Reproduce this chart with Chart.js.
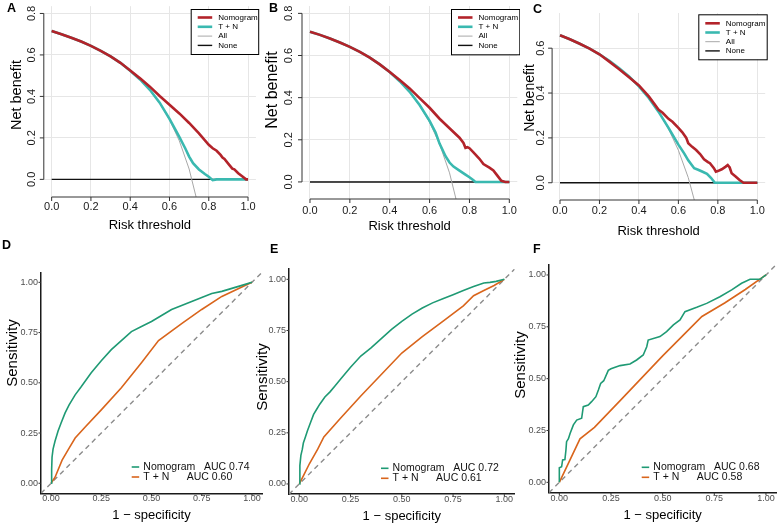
<!DOCTYPE html>
<html>
<head>
<meta charset="utf-8">
<title>Decision curves and ROC curves</title>
<script src="https://cdn.jsdelivr.net/npm/chart.js@4.4.1/dist/chart.umd.min.js"></script>
<style>
  html, body { margin: 0; padding: 0; background: #fff; }
  body { position: relative; width: 780px; height: 526px; overflow: hidden; }
  canvas { position: absolute; }
  .tag { position: absolute; font: bold 12.5px "Liberation Sans", Arial, sans-serif; line-height: 12.5px; color: #000; }
</style>
</head>
<body>
<canvas id="dcaA" width="260" height="236" style="left:0;top:0"></canvas>
<canvas id="dcaB" width="260" height="236" style="left:260px;top:0"></canvas>
<canvas id="dcaC" width="260" height="242" style="left:520px;top:0"></canvas>
<canvas id="rocD" width="266" height="290" style="left:0;top:236px"></canvas>
<canvas id="rocE" width="266" height="290" style="left:252px;top:236px"></canvas>
<canvas id="rocF" width="270" height="290" style="left:510px;top:236px"></canvas>
<div class="tag" style="left:7px;top:2px">A</div>
<div class="tag" style="left:269px;top:2px">B</div>
<div class="tag" style="left:533px;top:3px">C</div>
<div class="tag" style="left:2px;top:239px">D</div>
<div class="tag" style="left:270px;top:243px">E</div>
<div class="tag" style="left:533px;top:243px">F</div>
<script>
// ---- decision curves (A-C): risk threshold -> net benefit ----
const dcaNames = ["Nomogram", "T + N", "All", "None"];
const dcaXTicks = [0, 0.2, 0.4, 0.6, 0.8, 1];
const dcaYTicks = [0, 0.2, 0.4, 0.6, 0.8];
const dcaYTicksC = [0, 0.2, 0.4, 0.6];

const noneThr = [0, 1];
const noneNb = [0, 0];
const allThr = [0, 0.05, 0.1, 0.15, 0.2, 0.25, 0.3, 0.35, 0.4, 0.45, 0.5, 0.55, 0.6, 0.65, 0.7, 0.75];

// A
const allNbA = [0.715, 0.700, 0.683, 0.665, 0.644, 0.620, 0.593, 0.562, 0.525, 0.482, 0.430, 0.367, 0.288, 0.186, 0.050, -0.140];
const nomThrA = [0, 0.05, 0.1, 0.15, 0.2, 0.25, 0.3, 0.35, 0.4, 0.45, 0.5, 0.55, 0.6, 0.65, 0.7, 0.75, 0.8, 0.82, 0.84, 0.86, 0.87, 0.88, 0.9, 0.92, 0.93, 0.95, 0.97, 0.99, 1];
const nomNbA = [0.715, 0.700, 0.683, 0.665, 0.644, 0.620, 0.593, 0.562, 0.525, 0.487, 0.447, 0.402, 0.360, 0.318, 0.272, 0.222, 0.167, 0.150, 0.138, 0.118, 0.105, 0.098, 0.075, 0.052, 0.048, 0.030, 0.015, 0.0, 0.0];
const tnThrA = [0, 0.05, 0.1, 0.15, 0.2, 0.25, 0.3, 0.35, 0.4, 0.45, 0.5, 0.55, 0.6, 0.63, 0.65, 0.68, 0.7, 0.72, 0.75, 0.78, 0.8, 0.82, 0.84, 1];
const tnNbA = [0.715, 0.700, 0.683, 0.665, 0.644, 0.620, 0.593, 0.562, 0.524, 0.482, 0.432, 0.370, 0.292, 0.240, 0.205, 0.150, 0.110, 0.078, 0.048, 0.026, 0.013, -0.004, 0.0, 0.0];

// B
const allNbB = [0.713, 0.698, 0.681, 0.662, 0.641, 0.617, 0.590, 0.558, 0.522, 0.478, 0.426, 0.362, 0.283, 0.180, 0.043, -0.148];
const nomThrB = [0, 0.05, 0.1, 0.15, 0.2, 0.25, 0.3, 0.35, 0.4, 0.45, 0.5, 0.55, 0.6, 0.65, 0.7, 0.75, 0.77, 0.78, 0.79, 0.8, 0.82, 0.85, 0.87, 0.9, 0.92, 0.94, 0.96, 0.98, 1];
const nomNbB = [0.713, 0.698, 0.681, 0.662, 0.641, 0.617, 0.590, 0.558, 0.522, 0.484, 0.444, 0.398, 0.352, 0.300, 0.255, 0.210, 0.185, 0.162, 0.165, 0.160, 0.140, 0.110, 0.085, 0.068, 0.055, 0.030, 0.005, 0.0, 0.0];
const tnThrB = [0, 0.05, 0.1, 0.15, 0.2, 0.25, 0.3, 0.35, 0.4, 0.45, 0.5, 0.55, 0.6, 0.63, 0.65, 0.68, 0.7, 0.72, 0.75, 0.78, 0.8, 0.82, 0.83, 1];
const tnNbB = [0.713, 0.698, 0.681, 0.662, 0.641, 0.617, 0.590, 0.558, 0.522, 0.478, 0.428, 0.365, 0.290, 0.235, 0.182, 0.122, 0.092, 0.073, 0.054, 0.035, 0.022, 0.008, 0.0, 0.0];

// C
const allNbC = [0.658, 0.640, 0.620, 0.598, 0.573, 0.544, 0.511, 0.474, 0.430, 0.378, 0.316, 0.240, 0.145, 0.023, -0.140];
const nomThrC = [0, 0.05, 0.1, 0.15, 0.2, 0.25, 0.3, 0.35, 0.4, 0.45, 0.5, 0.52, 0.55, 0.57, 0.6, 0.62, 0.64, 0.65, 0.67, 0.69, 0.71, 0.73, 0.75, 0.76, 0.78, 0.79, 0.8, 0.82, 0.84, 0.85, 0.86, 0.87, 0.89, 0.91, 0.93, 1];
const nomNbC = [0.658, 0.640, 0.620, 0.598, 0.573, 0.540, 0.506, 0.470, 0.434, 0.385, 0.325, 0.312, 0.285, 0.272, 0.245, 0.225, 0.200, 0.176, 0.160, 0.146, 0.128, 0.105, 0.092, 0.087, 0.065, 0.049, 0.052, 0.060, 0.072, 0.079, 0.068, 0.042, 0.028, 0.012, 0.0, 0.0];
const tnThrC = [0, 0.05, 0.1, 0.15, 0.2, 0.25, 0.3, 0.35, 0.4, 0.45, 0.5, 0.55, 0.6, 0.63, 0.65, 0.68, 0.7, 0.72, 0.745, 0.765, 0.785, 1];
const tnNbC = [0.658, 0.640, 0.620, 0.598, 0.573, 0.544, 0.511, 0.474, 0.430, 0.378, 0.316, 0.245, 0.170, 0.130, 0.100, 0.065, 0.058, 0.050, 0.040, 0.022, 0.0, 0.0];

// ---- ROC curves (D-F): 1 - specificity -> sensitivity ----
const rocTicks = [0, 0.25, 0.5, 0.75, 1];
const diagX = [-0.05, 1.05];
const diagY = [-0.05, 1.05];

const nomFprD = [0, 0.003, 0.005, 0.01, 0.02, 0.035, 0.05, 0.07, 0.09, 0.12, 0.15, 0.2, 0.25, 0.3, 0.35, 0.4, 0.45, 0.5, 0.55, 0.6, 0.65, 0.7, 0.75, 0.8, 0.85, 0.9, 0.95, 1];
const nomTprD = [0, 0.07, 0.13, 0.17, 0.21, 0.26, 0.30, 0.35, 0.39, 0.44, 0.48, 0.55, 0.61, 0.665, 0.71, 0.755, 0.78, 0.805, 0.835, 0.865, 0.885, 0.905, 0.925, 0.945, 0.955, 0.97, 0.985, 1];
const tnFprD = [0, 0.02, 0.055, 0.09, 0.12, 0.17, 0.25, 0.35, 0.45, 0.535, 0.65, 0.75, 0.85, 1];
const tnTprD = [0, 0.03, 0.115, 0.175, 0.225, 0.28, 0.365, 0.475, 0.6, 0.71, 0.795, 0.865, 0.93, 1];
const labelsD = ["Nomogram   AUC 0.74", "T + N      AUC 0.60"];

const nomFprE = [0, 0.003, 0.008, 0.015, 0.02, 0.03, 0.04, 0.055, 0.07, 0.085, 0.1, 0.125, 0.15, 0.175, 0.2, 0.25, 0.3, 0.35, 0.4, 0.45, 0.5, 0.55, 0.6, 0.65, 0.7, 0.75, 0.8, 0.85, 0.9, 0.93, 0.96, 1];
const nomTprE = [0, 0.09, 0.14, 0.17, 0.2, 0.23, 0.26, 0.30, 0.34, 0.365, 0.39, 0.425, 0.45, 0.48, 0.51, 0.57, 0.625, 0.665, 0.71, 0.755, 0.795, 0.83, 0.86, 0.885, 0.905, 0.925, 0.945, 0.965, 0.982, 0.985, 0.99, 1];
const tnFprE = [0, 0.02, 0.05, 0.09, 0.12, 0.2, 0.3, 0.4, 0.5, 0.6, 0.7, 0.8, 0.85, 0.9, 0.95, 1];
const tnTprE = [0, 0.04, 0.10, 0.17, 0.23, 0.32, 0.43, 0.535, 0.64, 0.72, 0.795, 0.87, 0.92, 0.945, 0.97, 1];
const labelsE = ["Nomogram   AUC 0.72", "T + N      AUC 0.61"];

const nomFprF = [0, 0, 0, 0.011, 0.016, 0.027, 0.032, 0.035, 0.044, 0.052, 0.068, 0.084, 0.108, 0.116, 0.14, 0.156, 0.177, 0.189, 0.2, 0.215, 0.237, 0.25, 0.294, 0.342, 0.374, 0.406, 0.423, 0.43, 0.487, 0.519, 0.552, 0.584, 0.608, 0.665, 0.713, 0.777, 0.834, 0.882, 0.923, 0.971, 1];
const nomTprF = [0, 0.01, 0.07, 0.075, 0.108, 0.11, 0.156, 0.196, 0.21, 0.236, 0.277, 0.3, 0.309, 0.365, 0.373, 0.389, 0.413, 0.445, 0.477, 0.49, 0.54, 0.548, 0.563, 0.571, 0.59, 0.614, 0.654, 0.686, 0.703, 0.727, 0.759, 0.783, 0.823, 0.844, 0.863, 0.895, 0.928, 0.96, 0.979, 0.979, 1];
const tnFprF = [0, 0.1, 0.17, 0.3, 0.4, 0.5, 0.6, 0.69, 0.8, 0.9, 1];
const tnTprF = [0, 0.21, 0.265, 0.40, 0.505, 0.61, 0.71, 0.80, 0.865, 0.93, 1];
const labelsF = ["Nomogram   AUC 0.68", "T + N      AUC 0.58"];

const FONT = '"Liberation Sans", Arial, sans-serif';
Chart.defaults.font.family = FONT;
Chart.defaults.color = "#000";

function xy(xs, ys) {
    return xs.map((x, i) => ({ x: x, y: ys[i] }));
}

// base-R style axis: line between first and last tick, short outward ticks
const axisMarks = {
    id: "axisMarks",
    afterDraw(chart, args, o) {
        const { ctx, chartArea: a, scales } = chart;
        const xs = scales.x.ticks.map((t) => scales.x.getPixelForValue(t.value));
        const ys = scales.y.ticks.map((t) => scales.y.getPixelForValue(t.value));
        ctx.save();
        ctx.strokeStyle = o.color;
        ctx.lineWidth = o.width;
        ctx.beginPath();
        if (o.lines) {
            ctx.moveTo(xs[0], a.bottom);
            ctx.lineTo(xs[xs.length - 1], a.bottom);
            ctx.moveTo(a.left, ys[0]);
            ctx.lineTo(a.left, ys[ys.length - 1]);
        }
        xs.forEach((px) => {
            ctx.moveTo(px, a.bottom);
            ctx.lineTo(px, a.bottom + o.len);
        });
        ys.forEach((py) => {
            ctx.moveTo(a.left, py);
            ctx.lineTo(a.left - o.len, py);
        });
        ctx.stroke();
        ctx.restore();
    },
};

// vertical axis title, placed where the figure has it
const sideTitle = {
    id: "sideTitle",
    afterDraw(chart, args, o) {
        const ctx = chart.ctx;
        ctx.save();
        ctx.translate(o.x, o.y);
        ctx.rotate(-Math.PI / 2);
        ctx.font = o.size + "px " + FONT;
        ctx.fillStyle = "#000";
        ctx.textAlign = "center";
        ctx.textBaseline = "middle";
        ctx.fillText(o.text, 0, 0);
        ctx.restore();
    },
};

// boxed legend of the decision curves
const dcaLegend = {
    id: "dcaLegend",
    afterDraw(chart, args, o) {
        const ctx = chart.ctx;
        ctx.save();
        ctx.fillStyle = "#fff";
        ctx.fillRect(o.x, o.y, o.w, o.h);
        ctx.strokeStyle = "#000";
        ctx.lineWidth = 1;
        ctx.strokeRect(o.x + 0.5, o.y + 0.5, o.w, o.h);
        ctx.font = "8px " + FONT;
        ctx.textBaseline = "middle";
        chart.data.datasets.forEach((ds, i) => {
            const yy = o.y + o.first + i * o.step;
            ctx.strokeStyle = ds.borderColor;
            ctx.lineWidth = ds.borderWidth;
            ctx.beginPath();
            ctx.moveTo(o.x + 7, yy);
            ctx.lineTo(o.x + 21.5, yy);
            ctx.stroke();
            ctx.fillStyle = "#000";
            ctx.fillText(ds.label, o.x + 27.5, yy);
        });
        ctx.restore();
    },
};

// ggplot style legend of the ROC curves
const rocLegend = {
    id: "rocLegend",
    afterDraw(chart, args, o) {
        const ctx = chart.ctx;
        ctx.save();
        ctx.font = "10.5px " + FONT;
        ctx.textBaseline = "middle";
        chart.data.datasets.slice(0, 2).forEach((ds, i) => {
            const yy = o.y + i * o.step;
            ctx.strokeStyle = ds.borderColor;
            ctx.lineWidth = 1.6;
            ctx.beginPath();
            ctx.moveTo(o.x, yy);
            ctx.lineTo(o.x + 7.5, yy);
            ctx.stroke();
            ctx.fillStyle = "#111";
            ctx.fillText(ds.label, o.x + 11.6, yy);
        });
        ctx.restore();
    },
};

function dcaChart(id, series, yTicks, box) {
    const canvas = document.getElementById(id);
    const W = canvas.width;
    const H = canvas.height;
    const colors = ["#b3232a", "#3ab9b0", "#a8a8a8", "#111111"];
    const widths = [2.6, 2.6, 1, 1.4];
    return new Chart(canvas, {
        type: "line",
        data: {
            datasets: series.map((s, i) => ({
                label: dcaNames[i],
                data: xy(s[0], s[1]),
                borderColor: colors[i],
                borderWidth: widths[i],
                pointRadius: 0,
                tension: 0,
            })),
        },
        options: {
            responsive: false,
            animation: false,
            events: [],
            layout: { padding: { left: 0, top: box.top, right: W - box.right, bottom: 0 } },
            scales: {
                x: {
                    type: "linear",
                    min: -0.04,
                    max: 1.04,
                    afterBuildTicks: (s) => { s.ticks = dcaXTicks.map((v) => ({ value: v })); },
                    afterFit: (s) => { s.height = H - box.bottom; s.paddingLeft = 0; s.paddingRight = 0; },
                    grid: { color: "#e6e6e6", drawTicks: false },
                    border: { display: false },
                    ticks: { padding: box.xPad, color: "#1a1a1a", font: { size: 11 }, callback: (v) => v.toFixed(1) },
                    title: { display: true, text: "Risk threshold", font: { size: 13 }, padding: { top: 0, bottom: box.xTitlePad } },
                },
                y: {
                    type: "linear",
                    min: box.yMin,
                    max: box.yMax,
                    afterBuildTicks: (s) => { s.ticks = yTicks.map((v) => ({ value: v })); },
                    afterFit: (s) => { s.width = box.left; s.paddingTop = 0; s.paddingBottom = 0; },
                    grid: { color: "#e6e6e6", drawTicks: false },
                    border: { display: false },
                    ticks: { padding: box.yPad, minRotation: 90, maxRotation: 90, crossAlign: "center", color: "#1a1a1a", font: { size: 11 }, callback: (v) => v.toFixed(1) },
                },
            },
            plugins: {
                legend: { display: false },
                tooltip: { enabled: false },
                axisMarks: { lines: true, len: 4, color: "#333", width: 1 },
                sideTitle: Object.assign({ text: "Net benefit" }, box.yTitle),
                dcaLegend: box.legend,
            },
        },
        plugins: [axisMarks, sideTitle, dcaLegend],
    });
}

function rocChart(id, nom, tn, labels, box) {
    const canvas = document.getElementById(id);
    const W = canvas.width;
    const H = canvas.height;
    return new Chart(canvas, {
        type: "line",
        data: {
            datasets: [
                { label: labels[0], data: xy(nom[0], nom[1]), borderColor: "#1f9a74", borderWidth: 1.6, pointRadius: 0 },
                { label: labels[1], data: xy(tn[0], tn[1]), borderColor: "#d9651c", borderWidth: 1.6, pointRadius: 0 },
                { label: "diagonal", data: xy(diagX, diagY), borderColor: "#8c8c8c", borderWidth: 1.4, borderDash: [5, 4], pointRadius: 0 },
            ],
        },
        options: {
            responsive: false,
            animation: false,
            events: [],
            layout: { padding: { left: 0, top: box.top, right: W - box.right, bottom: 0 } },
            scales: {
                x: {
                    type: "linear",
                    min: -0.05,
                    max: 1.05,
                    afterBuildTicks: (s) => { s.ticks = rocTicks.map((v) => ({ value: v })); },
                    afterFit: (s) => { s.height = H - box.bottom; s.paddingLeft = 0; s.paddingRight = 0; },
                    grid: { display: false, drawTicks: false },
                    border: { display: true, color: "#1a1a1a", width: 1.5 },
                    ticks: { padding: box.xPad, color: "#4d4d4d", font: { size: 9 }, callback: (v) => v.toFixed(2) },
                    title: { display: true, text: "1 \u2212 specificity", font: { size: 13 }, padding: { top: 0, bottom: box.xTitlePad } },
                },
                y: {
                    type: "linear",
                    min: -0.05,
                    max: 1.05,
                    afterBuildTicks: (s) => { s.ticks = rocTicks.map((v) => ({ value: v })); },
                    afterFit: (s) => { s.width = box.left; s.paddingTop = 0; s.paddingBottom = 0; },
                    grid: { display: false, drawTicks: false },
                    border: { display: true, color: "#1a1a1a", width: 1.5 },
                    ticks: { padding: 3, color: "#4d4d4d", font: { size: 9 }, callback: (v) => v.toFixed(2) },
                },
            },
            plugins: {
                legend: { display: false },
                tooltip: { enabled: false },
                axisMarks: { lines: false, len: 2.5, color: "#333", width: 1 },
                sideTitle: Object.assign({ text: "Sensitivity" }, box.yTitle),
                rocLegend: box.legend,
            },
        },
        plugins: [axisMarks, sideTitle, rocLegend],
    });
}

dcaChart("dcaA", [[nomThrA, nomNbA], [tnThrA, tnNbA], [allThr, allNbA], [noneThr, noneNb]], dcaYTicks, {
    left: 43.8, right: 255.9, top: 6.2, bottom: 197, yMin: -0.085, yMax: 0.835,
    xPad: 3.7, yPad: 4.5, xTitlePad: 3.2,
    yTitle: { x: 17, y: 95, size: 14.5 },
    legend: { x: 190.7, y: 9, w: 67.5, h: 45, first: 8.5, step: 9.3 },
});
dcaChart("dcaB", [[nomThrB, nomNbB], [tnThrB, tnNbB], [allThr, allNbB], [noneThr, noneNb]], dcaYTicks, {
    left: 42, right: 257.3, top: 6, bottom: 199, yMin: -0.081, yMax: 0.835,
    xPad: 5.1, yPad: 5.4, xTitlePad: 1.5,
    yTitle: { x: 12.5, y: 90, size: 16 },
    legend: { x: 191, y: 9, w: 68.3, h: 45.3, first: 8.5, step: 9.3 },
});
dcaChart("dcaC", [[nomThrC, nomNbC], [tnThrC, tnNbC], [allThr.slice(0, allNbC.length), allNbC], [noneThr, noneNb]], dcaYTicksC, {
    left: 32.1, right: 245.2, top: 13, bottom: 200, yMin: -0.077, yMax: 0.757,
    xPad: 4.1, yPad: 3.2, xTitlePad: 2.5,
    yTitle: { x: 10.5, y: 98, size: 14 },
    legend: { x: 178.3, y: 14.3, w: 68.4, h: 45, first: 9, step: 9.2 },
});

rocChart("rocD", [nomFprD, nomTprD], [tnFprD, tnTprD], labelsD, {
    left: 41, right: 262, top: 36.3, bottom: 257.3, xPad: 0.3, xTitlePad: 3.2,
    yTitle: { x: 13, y: 117, size: 15 },
    legend: { x: 131.7, y: 231, step: 10 },
});
rocChart("rocE", [nomFprE, nomTprE], [tnFprE, tnTprE], labelsE, {
    left: 37, right: 262.6, top: 33.1, bottom: 258.2, xPad: 0.1, xTitlePad: 1.5,
    yTitle: { x: 11, y: 141, size: 15 },
    legend: { x: 129, y: 232.3, step: 10 },
});
rocChart("rocF", [nomFprF, nomTprF], [tnFprF, tnTprF], labelsF, {
    left: 39, right: 266.3, top: 28.6, bottom: 256.7, xPad: 0.9, xTitlePad: 3.2,
    yTitle: { x: 10.5, y: 129, size: 15 },
    legend: { x: 131.7, y: 231.3, step: 10 },
});
</script>
</body>
</html>
